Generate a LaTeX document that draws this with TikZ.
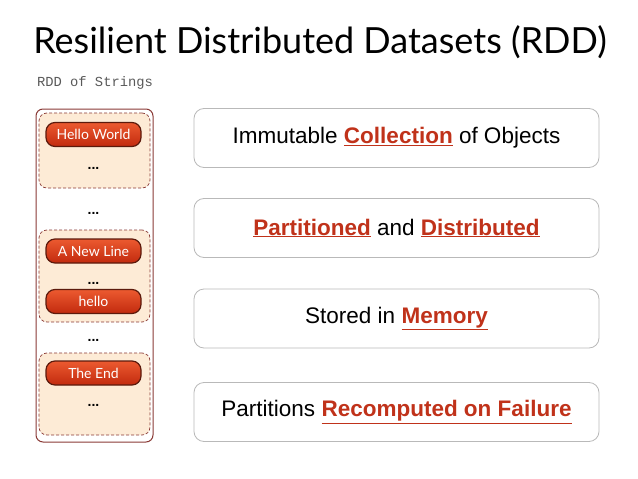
\documentclass[tikz,border=0pt]{standalone}
\usepackage{fontspec}
\setmainfont{Liberation Sans}
\newfontfamily\gillfont{Lato}
\setmonofont{Liberation Mono}
\usetikzlibrary{positioning}
\definecolor{rddred}{HTML}{C0321A}
\definecolor{pilltop}{HTML}{EC5A30}
\definecolor{pillbot}{HTML}{C22A0E}
\definecolor{pilledge}{HTML}{5C1A0C}
\definecolor{outeredge}{HTML}{8A3A36}
\definecolor{peach}{HTML}{FDEBD6}
\newcommand{\hl}[1]{\textcolor{rddred}{\underline{\textbf{#1}}}}

\begin{document}
\begin{tikzpicture}[x=1pt, y=-1pt, inner sep=0pt,
		outer/.style={draw=outeredge, line width=1pt, rounded corners=7pt, fill=white, minimum width=117pt, minimum height=333pt},
		group/.style={draw=outeredge, densely dashed, line width=0.7pt, rounded corners=8pt, fill=peach, minimum width=111pt},
		pill/.style={draw=pilledge, line width=1.2pt, rounded corners=9pt, top color=pilltop, bottom color=pillbot, minimum width=95pt, minimum height=24pt, text=white, font=\gillfont\fontsize{14}{16}\selectfont},
		dots/.style={font=\bfseries\fontsize{14}{14}\selectfont},
		fact/.style={draw=gray!55, line width=0.8pt, rounded corners=10pt, minimum width=405pt, minimum height=59pt, font=\fontsize{22.5}{26}\selectfont}]
	\useasboundingbox (0,0) rectangle (638,479);
	
	\node (title) at (320,42) {\gillfont\fontsize{36}{40}\selectfont Resilient Distributed Datasets (RDD)};
	\node[text=black!65, font=\ttfamily\fontsize{13.8}{15}\selectfont] (label) at (95,83) {RDD of Strings};
	
	% left column: one RDD made of partitions
	\node[outer] (rdd) at (94.5,275.5) {};
	\node[group, minimum height=75pt] (part1) at (94.5,150.5) {};
	\node[group, minimum height=92pt] (part2) at (94.5,276) {};
	\node[group, minimum height=82pt] (part3) at (94.5,394) {};
	
	\node[pill] (hello_world) at (93.5,134.5) {Hello World};
	\node[dots] (dots1) at (93.5,168) {...};
	\node[dots] (dots2) at (93.5,213) {...};
	\node[pill] (new_line) at (93.5,251) {A New Line};
	\node[dots] (dots3) at (93.5,283) {...};
	\node[pill] (hello) at (93.5,301.5) {hello};
	\node[dots] (dots4) at (93.5,340) {...};
	\node[pill] (the_end) at (93.5,373) {The End};
	\node[dots] (dots5) at (93.5,405) {...};
	
	% right column: properties
	\node[fact] (immutable) at (396.5,138) {Immutable \hl{Collection} of Objects};
	\node[fact] (partitioned) at (396.5,228) {\hl{Partitioned} and \hl{Distributed}};
	\node[fact] (memory) at (396.5,318.5) {Stored in \hl{Memory}};
	\node[fact] (recompute) at (396.5,412) {Partitions \hl{Recomputed on Failure}};
\end{tikzpicture}
\end{document}
